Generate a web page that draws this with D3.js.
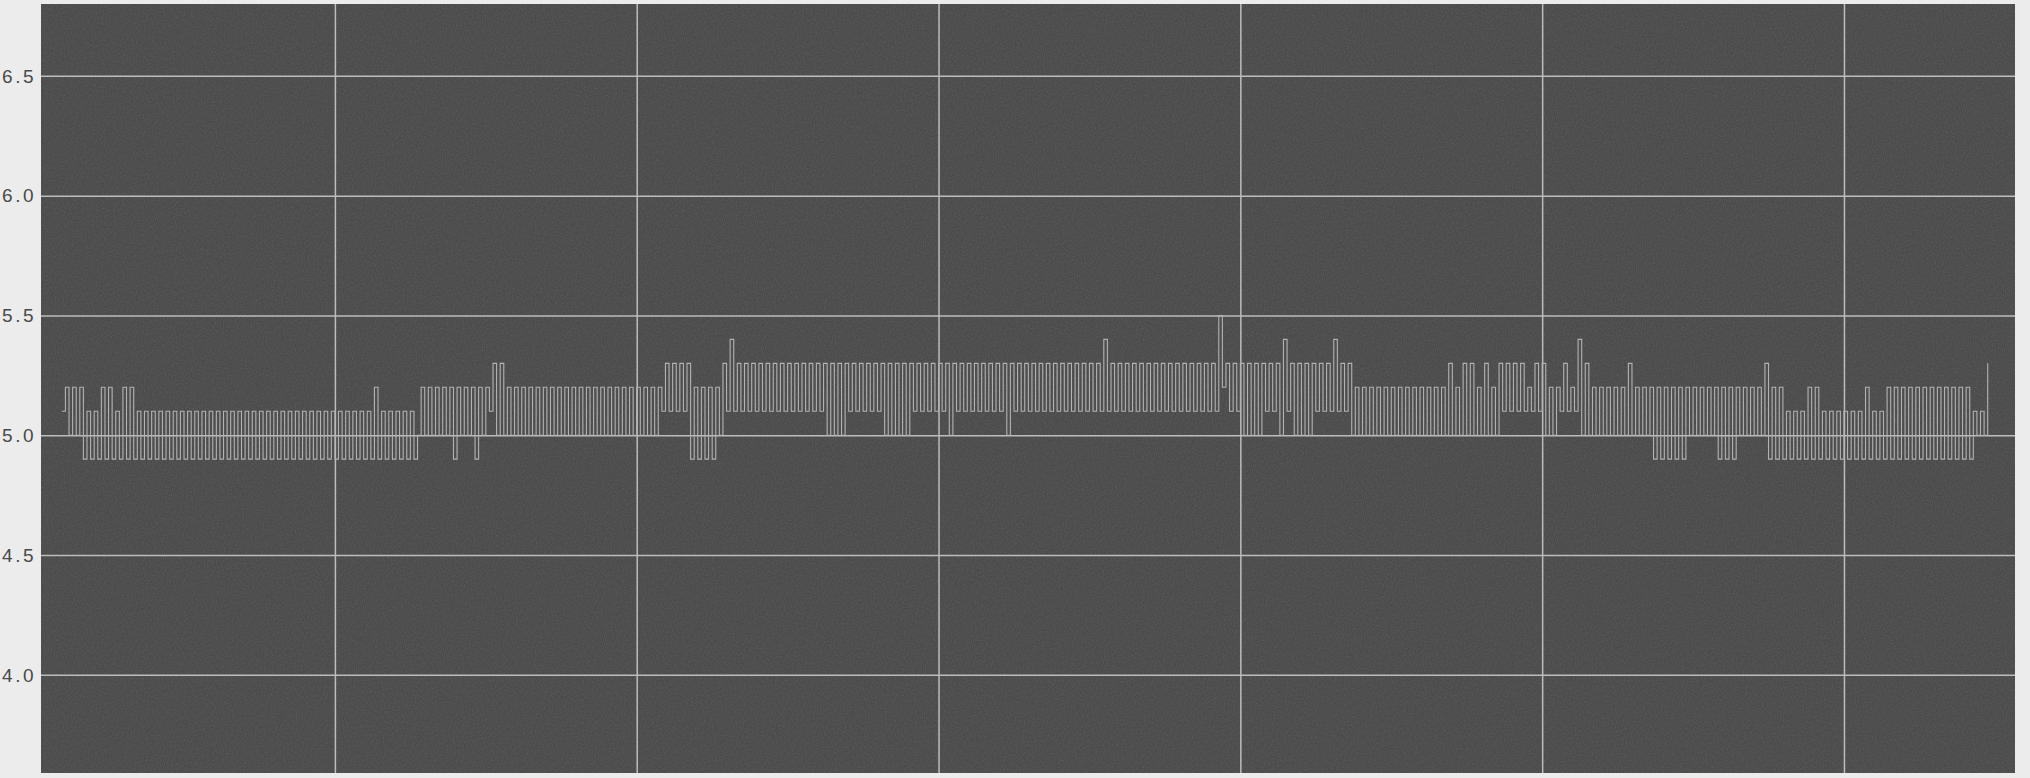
<!DOCTYPE html>
<html>
<head>
<meta charset="utf-8">
<script src="https://cdn.jsdelivr.net/npm/d3@7"></script>
<style>
  html, body { margin: 0; padding: 0; background: #ececec; }
  #container { width: 2030px; height: 778px; }
  .ylabels text { font-family: "Liberation Sans", sans-serif; font-size: 19px; fill: #4a4a4a; letter-spacing: 2.5px; }
</style>
</head>
<body>
<div id="container"></div>
<script>
var W = 2030, H = 778,
    margin = {top: 4, right: 15, bottom: 5, left: 41};

/* y axis ticks and range */
var yTicks = [4.0, 4.5, 5.0, 5.5, 6.0, 6.5],
    yDomain = [3.59, 6.8];

/* sample index of each vertical grid line, and visible x range in samples */
var xGrid = [76, 160, 244, 328, 412, 496],
    xDomain = [-5.8, 543.6];

/* signal samples, one array per grid division */
var div0 = [5.1,5.2,5.0,5.2,5.0,5.2,
  4.9,5.1,4.9,5.1,4.9,5.2,4.9,5.2,4.9,5.1,4.9,5.2,4.9,5.2,
  4.9,5.1,4.9,5.1,4.9,5.1,4.9,5.1,4.9,5.1,4.9,5.1,4.9,5.1,4.9,5.1,
  4.9,5.1,4.9,5.1,4.9,5.1,4.9,5.1,4.9,5.1,4.9,5.1,4.9,5.1,4.9,5.1,
  4.9,5.1,4.9,5.1,4.9,5.1,4.9,5.1,4.9,5.1,4.9,5.1,4.9,5.1,4.9,5.1,
  4.9,5.1,4.9,5.1,4.9,5.1,4.9,5.1];

var div1 = [4.9,5.1,4.9,5.1,4.9,5.1,4.9,5.1,4.9,5.1,4.9,5.2,4.9,5.1,4.9,5.1,
  4.9,5.1,4.9,5.1,4.9,5.1,4.9,
  5.0,5.2,5.0,5.2,5.0,5.2,5.0,5.2,5.0,5.2,4.9,5.2,5.0,5.2,5.0,5.2,4.9,5.2,
  5.0,5.2,5.1,5.3,5.0,5.3,5.0,5.2,
  5.0,5.2,5.0,5.2,5.0,5.2,5.0,5.2,5.0,5.2,5.0,5.2,5.0,5.2,5.0,5.2,5.0,5.2,
  5.0,5.2,5.0,5.2,5.0,5.2,5.0,5.2,5.0,5.2,5.0,5.2,5.0,5.2,5.0,5.2,5.0];

var div2 = [5.2,5.0,5.2,5.0,5.2,5.0,5.2,5.1,5.3,5.1,5.3,5.1,5.3,5.1,5.3,
  4.9,5.2,4.9,5.2,4.9,5.2,4.9,5.2,5.0,5.3,5.1,5.4,5.1,
  5.3,5.1,5.3,5.1,5.3,5.1,5.3,5.1,5.3,5.1,5.3,5.1,5.3,5.1,5.3,5.1,5.3,5.1,5.3,5.1,5.3,5.1,5.3,5.1,
  5.3,5.0,5.3,5.0,5.3,5.0,
  5.3,5.1,5.3,5.1,5.3,5.1,5.3,5.1,5.3,5.1,
  5.3,5.0,5.3,5.0,5.3,5.0,5.3,5.0,
  5.3,5.1,5.3,5.1,5.3,5.1,5.3,5.1,5.3,5.1];

var div3 = [5.3,5.0,
  5.3,5.1,5.3,5.1,5.3,5.1,5.3,5.1,5.3,5.1,5.3,5.1,5.3,5.1,
  5.3,5.0,
  5.3,5.1,5.3,5.1,5.3,5.1,5.3,5.1,5.3,5.1,5.3,5.1,5.3,5.1,
  5.3,5.1,5.3,5.1,5.3,5.1,5.3,5.1,5.3,5.1,5.3,5.1,
  5.4,5.1,
  5.3,5.1,5.3,5.1,5.3,5.1,5.3,5.1,5.3,5.1,5.3,5.1,5.3,5.1,5.3,5.1,
  5.3,5.1,5.3,5.1,5.3,5.1,5.3,5.1,5.3,5.1,5.3,5.1,5.3,5.1,
  5.5,5.2,5.3,5.1,5.3,5.1];

var div4 = [5.3,5.0,5.3,5.0,5.3,5.0,5.3,5.1,5.3,5.1,5.3,5.0,5.4,5.1,
  5.3,5.0,5.3,5.0,5.3,5.0,5.3,5.1,5.3,5.1,5.3,5.1,5.4,5.1,5.3,5.1,5.3,5.0,
  5.2,5.0,5.2,5.0,5.2,5.0,5.2,5.0,5.2,5.0,5.2,5.0,5.2,5.0,
  5.2,5.0,5.2,5.0,5.2,5.0,5.2,5.0,5.2,5.0,5.2,5.0,
  5.3,5.0,5.2,5.0,5.3,5.0,5.3,5.0,5.2,5.0,5.3,5.0,5.2,5.0,
  5.3,5.1,5.3,5.1,5.3,5.1,5.3,5.1,5.2,5.1,5.3,5.1];

var div5 = [5.3,5.0,5.2,5.0,5.2,5.1,5.3,5.1,5.2,5.1,5.4,5.0,5.3,5.0,
  5.2,5.0,5.2,5.0,5.2,5.0,5.2,5.0,5.2,5.0,
  5.3,5.0,5.2,5.0,5.2,5.0,
  5.2,4.9,5.2,4.9,5.2,4.9,5.2,4.9,5.2,4.9,
  5.2,5.0,5.2,5.0,5.2,5.0,5.2,5.0,
  5.2,4.9,5.2,4.9,5.2,4.9,
  5.2,5.0,5.2,5.0,5.2,5.0,5.2,5.0,
  5.3,4.9,5.2,4.9,5.2,4.9,
  5.1,4.9,5.1,4.9,5.1,4.9,5.2,4.9,5.2,4.9,5.1,4.9,5.1,4.9,5.1,4.9];

var div6 = [5.1,4.9,5.1,4.9,5.1,4.9,5.2,4.9,5.1,4.9,5.1,4.9,
  5.2,4.9,5.2,4.9,5.2,4.9,5.2,4.9,5.2,4.9,5.2,4.9,
  5.2,4.9,5.2,4.9,5.2,4.9,5.2,4.9,5.2,4.9,5.2,4.9,
  5.1,5.0,5.1,5.0,5.3];

var dataset = [].concat(div0, div1, div2, div3, div4, div5, div6)
    .map((v, i) => ({x: i, y: v}));

/*create svg element*/
var svg = d3.select('#container').append('svg')
    .attr('width', W)
    .attr('height', H);

var defs = svg.append('defs');
// grain to mimic the scanned print
var grain = defs.append('filter').attr('id', 'grain')
    .attr('x', 0).attr('y', 0).attr('width', '100%').attr('height', '100%');
grain.append('feTurbulence').attr('type', 'fractalNoise')
    .attr('baseFrequency', '0.9 0.6').attr('numOctaves', 2).attr('seed', 3);
grain.append('feColorMatrix').attr('type', 'matrix')
    .attr('values', '0 0 0 0 0.75  0 0 0 0 0.75  0 0 0 0 0.75  0.35 0 0 0 -0.12');

var xScale = d3.scaleLinear()
    .domain(xDomain)
    .range([margin.left, W - margin.right]);

var yScale = d3.scaleLinear()
    .domain(yDomain)
    .range([H - margin.bottom, margin.top]);

/* plot background */
svg.append('rect')
    .attr('x', margin.left).attr('y', margin.top)
    .attr('width', W - margin.right - margin.left)
    .attr('height', H - margin.bottom - margin.top)
    .attr('fill', '#4b4b4b');
svg.append('rect')
    .attr('x', margin.left).attr('y', margin.top)
    .attr('width', W - margin.right - margin.left)
    .attr('height', H - margin.bottom - margin.top)
    .attr('filter', 'url(#grain)')
    .attr('opacity', 0.5);

/* grid lines */
var yAxis = d3.axisLeft(yScale)
    .tickValues(yTicks)
    .tickSize(-(W - margin.right - margin.left))
    .tickFormat('');
svg.append('g')
    .classed('ygrid', true)
    .attr('transform', `translate(${margin.left}, 0)`)
    .call(yAxis)
    .call(g => g.select('.domain').remove())
    .selectAll('line')
        .attr('stroke', '#bdbdbd').attr('stroke-width', 1.5);

var xAxis = d3.axisBottom(xScale)
    .tickValues(xGrid)
    .tickSize(-(H - margin.bottom - margin.top))
    .tickFormat('');
svg.append('g')
    .classed('xgrid', true)
    .attr('transform', `translate(0, ${H - margin.bottom})`)
    .call(xAxis)
    .call(g => g.select('.domain').remove())
    .selectAll('line')
        .attr('stroke', '#bdbdbd').attr('stroke-width', 1.5);

/* y labels */
svg.append('g')
    .classed('ylabels', true)
    .selectAll('text').data(yTicks)
    .enter().append('text')
        .attr('x', 36)
        .attr('y', d => yScale(d))
        .attr('dy', '0.36em')
        .attr('text-anchor', 'end')
        .text(d => d3.format('.1f')(d));

/*define line*/
var line = d3.line()
    .x(d => xScale(d.x))
    .y(d => yScale(d.y))
    .curve(d3.curveStepAfter);

svg.append('path')
    .datum(dataset)
    .classed('signal', true)
    .attr('fill', 'none')
    .attr('stroke', '#b3b3b3')
    .attr('stroke-width', 1.1)
    .attr('d', line);
</script>
</body>
</html>
